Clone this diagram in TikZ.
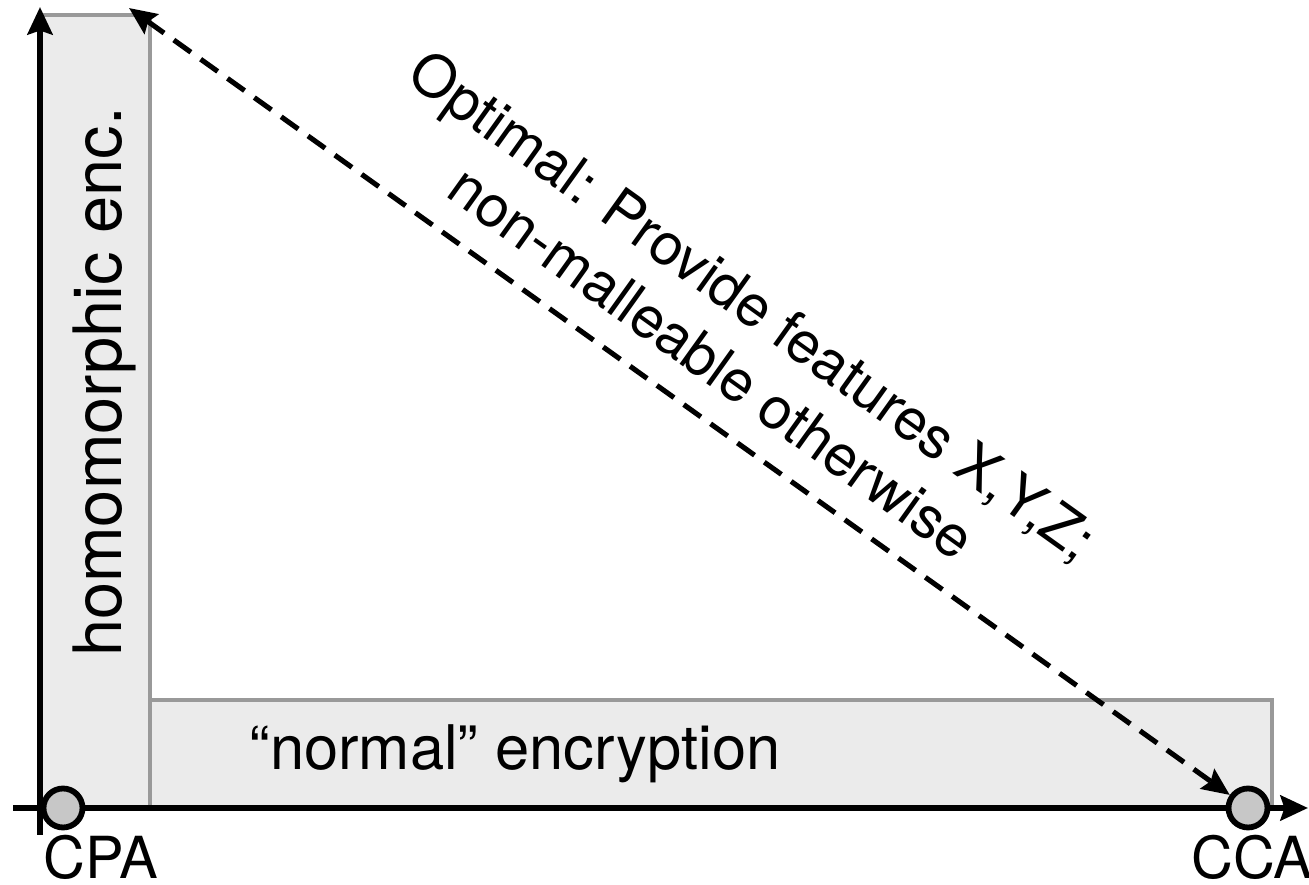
\documentclass[tikz,border=0pt]{standalone}
\usepackage{fontspec}
\setmainfont{TeX Gyre Heros}
\usetikzlibrary{arrows.meta}

\tikzset{
  axis/.style={line width=3.3pt, -{Stealth[length=0.55cm,width=0.5cm,inset=0.08cm]}},
  band/.style={draw=gray!80, fill=gray!16, line width=2.6pt},
  level/.style={circle, draw=black, fill=black!22, line width=3.3pt, minimum size=0.78cm, inner sep=0pt},
  optimal/.style={line width=2.9pt, dash pattern=on 0.42cm off 0.24cm,
    {Stealth[length=0.55cm,width=0.48cm,inset=0.08cm]}-{Stealth[length=0.55cm,width=0.48cm,inset=0.08cm]}},
}

\begin{document}
\begin{tikzpicture}[x=0.02cm, y=0.02cm]
  \useasboundingbox (0,0) rectangle (1309,885);

  % Regions
  \draw[band] (40,77) rectangle (150,870);
  \draw[band] (150,77) rectangle (1272,185);
  \node[rotate=90, font=\fontsize{38}{44}\selectfont] (homlabel) at (104,503) {homomorphic enc.};
  \node[font=\fontsize{35}{40}\selectfont] (normlabel) at (515,131) {“normal” encryption};

  % Axes
  \coordinate (origin-y) at (40,50);
  \coordinate (top-y) at (40,878);
  \coordinate (origin-x) at (13,77);
  \coordinate (end-x) at (1308,77);
  \draw[axis] (origin-y) -- (top-y);
  \draw[axis] (origin-x) -- (end-x);

  % Attack levels
  \node[level] (cpa) at (63,77) {};
  \node[level] (cca) at (1248,77) {};
  \node[anchor=base, font=\fontsize{33}{38}\selectfont] (cpalabel) at (101,6) {CPA};
  \node[anchor=base, font=\fontsize{33}{38}\selectfont] (ccalabel) at (1252,6) {CCA};

  % Optimal
  \coordinate (corner) at (129,877);
  \draw[optimal] (corner) -- (cca);
  \node[rotate=-35.6, align=center, font=\fontsize{33}{40}\selectfont] (optlabel) at (733,552)
    {Optimal: Provide features X,Y,Z;\\non-malleable otherwise};
\end{tikzpicture}
\end{document}
